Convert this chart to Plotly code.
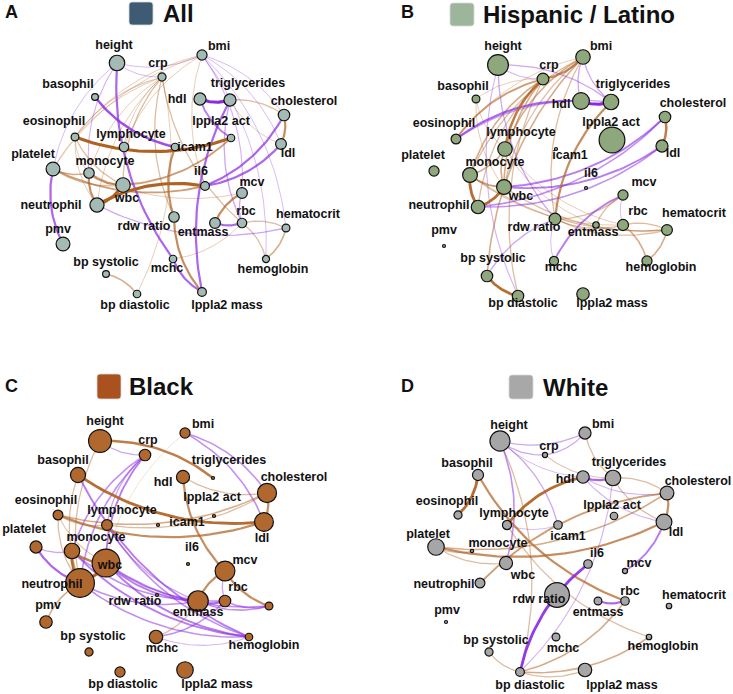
import numpy as np
import plotly.graph_objects as go

# ---------------- data ----------------
KEYS = ["height", "crp", "bmi", "baso", "hdl", "trig", "chol", "eos", "lym", "icam1",
        "lpact", "ldl", "plt", "mono", "il6", "wbc", "mcv", "neut", "rdw", "ent",
        "rbc", "hct", "pmv", "mchc", "hgb", "bps", "bpd", "lpmass"]
NAMES = ["height", "crp", "bmi", "basophil", "hdl", "triglycerides", "cholesterol",
         "eosinophil", "lymphocyte", "icam1", "lppla2 act", "ldl", "platelet", "monocyte",
         "il6", "wbc", "mcv", "neutrophil", "rdw ratio", "entmass", "rbc", "hematocrit",
         "pmv", "mchc", "hemoglobin", "bp systolic", "bp diastolic", "lppla2 mass"]
# shared network layout (embedding coordinates)
LAYOUT_X = [117, 162, 202, 95, 200, 230, 284, 75, 124, 175, 231, 281, 53, 89, 205, 123,
            242, 97, 174, 215, 242, 286, 63, 173, 266, 106, 137, 202]
LAYOUT_Y = [63, 77, 55, 97, 99, 100, 115, 137, 147, 147, 138, 144, 169, 173, 186, 185,
            193, 205, 217, 223, 223, 228, 244, 259, 259, 274, 294, 292]

# node importance (diameter) per group
SIZE_ALL = [16.7, 9.3, 11.3, 8, 13.3, 13.3, 12.7, 9, 10.7, 8.7, 8.7, 12, 15, 11.7, 10, 15.7,
            12, 15.3, 11.7, 12, 10.7, 9, 15, 8.7, 8.3, 8, 8.7, 10]
SIZE_HIS = [22, 13, 15.7, 9, 18, 16.7, 12.7, 11, 15.7, 3.5, 27, 13.3, 11.3, 16, 3.5, 16,
            11.3, 14.7, 13, 7.7, 12.3, 12, 3.5, 10.3, 11.3, 12.7, 12.7, 13.7]
SIZE_BLK = [24, 12.7, 11.3, 16.3, 14.3, 4, 20.3, 11, 12, 4, 4, 20, 13.3, 16.7, 4, 29,
            21, 30, 4, 21.7, 12.7, 9, 13.7, 14.7, 8.7, 9.3, 11.3, 17.7]
SIZE_WHT = [21.3, 6.3, 13.3, 12.3, 13.7, 16.7, 15, 9.3, 10.3, 9.7, 8.7, 17, 17.7, 4.5, 9.7,
            14.3, 6.3, 11, 26, 9, 9.7, 6.7, 4, 9, 6.7, 9.3, 10, 14.7]

# edges: (source, target, partial correlation); sign -> colour, magnitude -> width
EDGES_ALL = [
    ("height", "bmi", -0.1), ("height", "crp", -0.1), ("height", "mono", -0.12),
    ("height", "plt", -0.1), ("height", "mchc", -0.3), ("baso", "icam1", -0.35),
    ("crp", "eos", 0.12), ("crp", "mono", 0.1), ("crp", "plt", 0.1), ("crp", "wbc", 0.15),
    ("crp", "neut", 0.1), ("crp", "lym", 0.1), ("crp", "rdw", 0.15), ("crp", "rbc", 0.15),
    ("bpd", "crp", 0.1), ("chol", "bmi", -0.1), ("ldl", "bmi", -0.1), ("hct", "bmi", -0.1),
    ("hgb", "bmi", -0.1), ("mcv", "bmi", -0.12), ("bmi", "eos", 0.1), ("bmi", "lym", 0.1),
    ("bmi", "plt", 0.1), ("bmi", "il6", 0.1), ("hdl", "trig", -0.45), ("hdl", "lpact", -0.25),
    ("trig", "lpmass", -0.3), ("chol", "trig", 0.15), ("trig", "ldl", 0.1),
    ("ldl", "chol", 0.3), ("il6", "chol", -0.3), ("il6", "ldl", -0.3),
    ("eos", "lpact", 0.45), ("il6", "neut", 0.45), ("neut", "wbc", 0.45),
    ("mono", "neut", 0.3), ("mono", "wbc", 0.3), ("plt", "mono", 0.2), ("plt", "wbc", 0.15),
    ("plt", "il6", 0.25), ("wbc", "lpact", 0.25), ("eos", "mono", 0.1), ("eos", "neut", 0.1),
    ("eos", "wbc", 0.15), ("plt", "pmv", -0.3), ("icam1", "rdw", 0.3), ("rdw", "lpmass", 0.3),
    ("mchc", "lpmass", -0.3), ("mcv", "ent", 0.3), ("mcv", "rbc", -0.15), ("ent", "rbc", -0.3),
    ("hct", "rbc", 0.15), ("hgb", "rbc", 0.15), ("hgb", "hct", 0.2), ("neut", "hct", -0.15),
    ("bpd", "bps", 0.2), ("mchc", "rbc", 0.1), ("trig", "rbc", -0.15), ("mono", "mcv", 0.1),
]
EDGES_HIS = [
    ("height", "crp", -0.12), ("trig", "height", -0.15), ("height", "rdw", -0.15),
    ("height", "bpd", -0.12), ("crp", "bmi", 0.3), ("crp", "lym", 0.35), ("crp", "mono", 0.2),
    ("crp", "wbc", 0.2), ("crp", "neut", 0.15), ("crp", "eos", 0.25), ("crp", "baso", 0.1),
    ("crp", "bpd", 0.15), ("bmi", "hdl", -0.15), ("bmi", "trig", -0.15), ("bmi", "lym", 0.2),
    ("bmi", "mono", 0.15), ("bmi", "wbc", 0.15), ("bmi", "eos", 0.1), ("bmi", "rdw", 0.15),
    ("bmi", "bps", 0.2), ("hdl", "trig", -0.45), ("hdl", "eos", -0.3), ("trig", "eos", -0.15),
    ("trig", "rdw", 0.3), ("ldl", "chol", 0.35), ("wbc", "chol", -0.25), ("neut", "chol", -0.2),
    ("wbc", "ldl", -0.25), ("neut", "ldl", -0.2), ("mono", "neut", 0.4), ("neut", "wbc", 0.4),
    ("mono", "wbc", 0.25), ("mono", "lym", 0.2), ("lym", "wbc", 0.2), ("baso", "lym", 0.1),
    ("baso", "wbc", 0.1), ("mono", "hct", 0.15), ("wbc", "hct", 0.15), ("mono", "rbc", 0.1),
    ("lym", "rbc", 0.1), ("lym", "ent", 0.1), ("rdw", "mcv", 0.15), ("rdw", "rbc", 0.15),
    ("rdw", "hct", 0.15), ("rdw", "bps", -0.15), ("rdw", "mchc", -0.1), ("mcv", "rbc", -0.1),
    ("mcv", "mchc", -0.25), ("mcv", "ent", 0.15), ("hct", "rbc", 0.15), ("hgb", "rbc", 0.2),
    ("hgb", "hct", 0.2), ("bps", "bpd", 0.4),
]
EDGES_BLK = [
    ("trig", "height", 0.35), ("height", "crp", -0.15), ("height", "neut", 0.15),
    ("crp", "wbc", -0.25), ("crp", "mono", -0.2), ("crp", "lym", -0.15), ("crp", "neut", -0.2),
    ("chol", "bmi", -0.2), ("ldl", "bmi", -0.2), ("bmi", "wbc", 0.06), ("hdl", "chol", 0.15),
    ("baso", "ldl", 0.4), ("baso", "neut", 0.15), ("baso", "hgb", -0.25), ("eos", "ldl", 0.3),
    ("eos", "chol", 0.2), ("eos", "lym", 0.15), ("eos", "neut", 0.15), ("eos", "wbc", 0.12),
    ("lym", "chol", 0.15), ("plt", "neut", -0.3), ("plt", "mono", -0.15),
    ("mono", "wbc", 0.35), ("mono", "neut", 0.4), ("neut", "wbc", 0.45), ("neut", "pmv", 0.2),
    ("wbc", "ent", -0.25), ("wbc", "rbc", -0.2), ("wbc", "hct", -0.2), ("wbc", "hgb", -0.25),
    ("neut", "ent", -0.2), ("neut", "hgb", -0.2), ("mono", "hgb", -0.25), ("lym", "hgb", -0.2),
    ("mono", "ent", -0.2), ("lym", "ent", -0.15), ("hdl", "mcv", 0.3), ("mcv", "ent", 0.3),
    ("mcv", "hct", 0.3), ("mcv", "rbc", -0.15), ("ent", "rbc", -0.3), ("ent", "hct", -0.2),
    ("rbc", "hct", -0.2), ("mchc", "ent", 0.15), ("mchc", "rbc", -0.2), ("mchc", "hgb", -0.12),
    ("ldl", "chol", 0.3),
]
EDGES_WHT = [
    ("height", "crp", -0.15), ("height", "bmi", -0.15), ("crp", "bmi", -0.15),
    ("height", "hdl", -0.1), ("icam1", "height", -0.15), ("wbc", "height", -0.2),
    ("bpd", "height", 0.15), ("bmi", "trig", 0.15), ("crp", "trig", 0.12), ("hdl", "lym", 0.4),
    ("hdl", "trig", -0.3), ("hdl", "chol", -0.12), ("hdl", "ldl", -0.12), ("chol", "trig", 0.15),
    ("trig", "ldl", 0.15), ("bpd", "trig", -0.12), ("ldl", "chol", 0.3), ("chol", "neut", 0.25),
    ("plt", "ldl", 0.3), ("plt", "chol", 0.2), ("plt", "wbc", 0.15), ("plt", "mono", 0.15),
    ("eos", "baso", 0.4), ("baso", "rbc", 0.3), ("lym", "hgb", 0.15), ("mcv", "ldl", -0.25),
    ("il6", "bpd", -0.4), ("ent", "rbc", -0.3), ("bpd", "rbc", 0.2), ("bpd", "hgb", 0.2),
    ("bpd", "lpmass", 0.15), ("bps", "bpd", 0.15), ("lym", "icam1", -0.1),
]

# label anchor positions in the embedding, per panel
LBL_ALL = [(114, 46), (158, 64), (219, 47), (68, 85), (177, 100), (248, 84), (304, 102),
           (54, 122), (131, 135), (195, 148), (221, 122), (288, 154), (33, 155), (105, 162),
           (201, 172), (127, 199), (252, 183), (51, 206), (144, 227), (203, 233), (246, 212),
           (308, 215), (58, 230), (167, 269), (273, 270), (106, 263), (135, 306), (227, 306)]
LBL_HIS = [(122, 45), (168, 64), (220, 45), (82, 85), (180, 103), (252, 83), (312, 102),
           (63, 122), (140, 131), (189, 154), (230, 121), (292, 152), (42, 154), (114, 161),
           (210, 172), (140, 195), (263, 181), (58, 204), (153, 226), (212, 231), (257, 210),
           (313, 212), (63, 229), (180, 266), (280, 266), (112, 257), (142, 302), (231, 302)]
LBL_BLK = [(122, 44), (165, 63), (220, 47), (80, 83), (180, 105), (246, 83), (311, 100),
           (63, 123), (139, 133), (204, 145), (229, 120), (279, 161), (41, 152), (113, 160),
           (209, 170), (127, 188), (262, 183), (69, 207), (152, 224), (215, 235), (255, 210),
           (316, 212), (65, 228), (179, 271), (281, 268), (110, 259), (140, 307), (234, 307)]
LBL_WHT = [(126, 48), (166, 69), (220, 47), (84, 86), (182, 102), (246, 85), (315, 104),
           (64, 124), (131, 136), (185, 159), (229, 128), (293, 155), (45, 157), (115, 166),
           (214, 176), (140, 198), (256, 186), (61, 207), (156, 222), (215, 235), (247, 214),
           (311, 218), (64, 233), (180, 271), (280, 269), (113, 263), (147, 308), (239, 308)]

GROUPS = ["All", "Hispanic / Latino", "Black", "White"]
LETTERS = ["A", "B", "C", "D"]

# ---------------- style ----------------
W, H = 733, 694
SWATCH = ["#3D5B73", "#9DB59B", "#A9521F", "#A8A8A8"]
NODE_FILL = ["#A4BAB4", "#8FA77D", "#B0682F", "#A6A6A6"]
PURPLE = (138, 43, 226)
BROWN = (176, 98, 34)
CURV = 0.18
XR = (25, 315)
YR = (30, 315)
# panel placement (top-left pixel of each subplot's plotting area)
PANEL_ORIGIN = [(25, 30), (406, 32), (8, 408), (408, 408)]
TITLE_POS = [(129, 153, 161), (450, 474, 481), (97, 121, 127), (509, 533, 541)]
TITLE_Y = [(2, 25), (3, 26), (374, 399), (375, 399)]
LETTER_POS = [(3, 12), (399, 12), (3, 386), (399, 386)]
FONT = "Liberation Sans, Arial, sans-serif"

idx = {k: i for i, k in enumerate(KEYS)}


def bezier(x0, y0, x1, y1, c=CURV, n=28):
    dx, dy = x1 - x0, y1 - y0
    cx, cy = (x0 + x1) / 2 - c * dy, (y0 + y1) / 2 + c * dx
    t = np.linspace(0, 1, n)
    bx = (1 - t) ** 2 * x0 + 2 * (1 - t) * t * cx + t ** 2 * x1
    by = (1 - t) ** 2 * y0 + 2 * (1 - t) * t * cy + t ** 2 * y1
    return bx, by


fig = go.Figure()
edge_sets = [EDGES_ALL, EDGES_HIS, EDGES_BLK, EDGES_WHT]
size_sets = [SIZE_ALL, SIZE_HIS, SIZE_BLK, SIZE_WHT]
label_sets = [LBL_ALL, LBL_HIS, LBL_BLK, LBL_WHT]

for p in range(4):
    xa = "x" if p == 0 else f"x{p + 1}"
    ya = "y" if p == 0 else f"y{p + 1}"
    # edges, weakest first so strong ones sit on top
    for s, t, w in sorted(edge_sets[p], key=lambda e: abs(e[2])):
        a, b = idx[s], idx[t]
        bx, by = bezier(LAYOUT_X[a], LAYOUT_Y[a], LAYOUT_X[b], LAYOUT_Y[b])
        rgb = PURPLE if w < 0 else BROWN
        alpha = min(1.0, 0.12 + 2.0 * abs(w))
        width = 0.4 + 6.0 * abs(w)
        fig.add_trace(go.Scatter(
            x=bx, y=by, mode="lines", xaxis=xa, yaxis=ya, hoverinfo="skip",
            line=dict(color=f"rgba({rgb[0]},{rgb[1]},{rgb[2]},{alpha:.2f})", width=width),
            showlegend=False))
    # nodes
    fig.add_trace(go.Scatter(
        x=LAYOUT_X, y=LAYOUT_Y, mode="markers", xaxis=xa, yaxis=ya, text=NAMES,
        hoverinfo="text", cliponaxis=False, showlegend=False,
        marker=dict(size=[max(3.0, d - 1.2) for d in size_sets[p]], color=NODE_FILL[p],
                    line=dict(color="#111111", width=1.2), opacity=1)))
    # labels
    lx = [q[0] for q in label_sets[p]]
    ly = [q[1] for q in label_sets[p]]
    fig.add_trace(go.Scatter(
        x=lx, y=ly, mode="text", xaxis=xa, yaxis=ya, text=NAMES, hoverinfo="skip",
        textposition="middle center", cliponaxis=False, showlegend=False,
        textfont=dict(family=FONT, size=12.5, color="#111111", weight="bold")))

layout = dict(width=W, height=H, autosize=False, margin=dict(l=0, r=0, t=0, b=0),
              paper_bgcolor="white", plot_bgcolor="rgba(0,0,0,0)", showlegend=False)
shapes, annotations = [], []
for p in range(4):
    ox, oy = PANEL_ORIGIN[p]
    wpx, hpx = XR[1] - XR[0], YR[1] - YR[0]
    suffix = "" if p == 0 else str(p + 1)
    layout["xaxis" + suffix] = dict(range=list(XR), domain=[ox / W, (ox + wpx) / W],
                                    visible=False, fixedrange=True,
                                    anchor="y" + suffix)
    layout["yaxis" + suffix] = dict(range=[YR[1], YR[0]],
                                    domain=[1 - (oy + hpx) / H, 1 - oy / H],
                                    visible=False, fixedrange=True,
                                    anchor="x" + suffix)
    # title swatch (rounded square)
    x0, x1, tx = TITLE_POS[p]
    y0, y1 = TITLE_Y[p]
    r = 3
    pts = [(x0 + r, y0), (x1 - r, y0), (x1, y0), (x1, y0 + r), (x1, y1 - r), (x1, y1),
           (x1 - r, y1), (x0 + r, y1), (x0, y1), (x0, y1 - r), (x0, y0 + r), (x0, y0),
           (x0 + r, y0)]
    P = [(px / W, 1 - py / H) for px, py in pts]
    path = (f"M {P[0][0]},{P[0][1]} L {P[1][0]},{P[1][1]} Q {P[2][0]},{P[2][1]} {P[3][0]},{P[3][1]} "
            f"L {P[4][0]},{P[4][1]} Q {P[5][0]},{P[5][1]} {P[6][0]},{P[6][1]} "
            f"L {P[7][0]},{P[7][1]} Q {P[8][0]},{P[8][1]} {P[9][0]},{P[9][1]} "
            f"L {P[10][0]},{P[10][1]} Q {P[11][0]},{P[11][1]} {P[12][0]},{P[12][1]} Z")
    shapes.append(dict(type="path", xref="paper", yref="paper", path=path,
                       fillcolor=SWATCH[p], line=dict(color="#D8D8D8", width=0.8)))
    annotations.append(dict(x=tx / W, y=1 - (y0 + y1) / 2 / H, xref="paper", yref="paper",
                            text=GROUPS[p], showarrow=False, xanchor="left", yanchor="middle",
                            font=dict(family=FONT, size=24, color="#111111", weight="bold")))
    lxp, lyp = LETTER_POS[p]
    annotations.append(dict(x=lxp / W, y=1 - lyp / H, xref="paper", yref="paper",
                            text=LETTERS[p], showarrow=False, xanchor="left", yanchor="middle",
                            font=dict(family=FONT, size=18, color="#111111", weight="bold")))
layout["shapes"] = shapes
layout["annotations"] = annotations
fig.update_layout(**layout)
fig.write_html(
    "out.html",
    config={"displayModeBar": False},
    post_script="document.body.style.margin='0';document.body.style.overflow='hidden';",
)
